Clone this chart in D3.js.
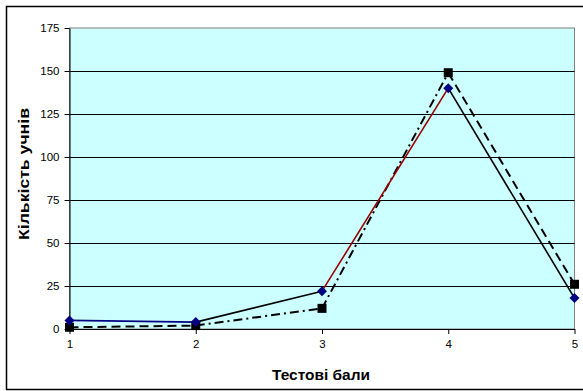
<!DOCTYPE html>
<html>
<head>
<meta charset="utf-8">
<script src="https://cdn.jsdelivr.net/npm/d3@7"></script>
<style>
  html, body { margin: 0; padding: 0; background: #fff; }
  svg { display: block; font-family: "Liberation Sans", Arial, sans-serif; }
</style>
</head>
<body>
<svg id="chart" width="583" height="391"></svg>
<script>
// Test scores (categories) and number of pupils for two groups
const scores = [1, 2, 3, 4, 5];
const groupA = [5, 4, 22, 140, 18];   // solid line, diamond markers
const groupB = [1, 2, 12, 149, 26];   // dashed line, square markers
const yTicks = [0, 25, 50, 75, 100, 125, 150, 175];

// per-segment stroke styles (segment i joins point i and i+1)
const segA = [
  { color: "#000080", dash: null },
  { color: "#000000", dash: null },
  { color: "#990000", dash: null },
  { color: "#000000", dash: null }
];
const segB = [
  { color: "#000000", dash: "9,5" },
  { color: "#000000", dash: "9,4,2,4" },
  { color: "#000000", dash: "9,4,2,4" },
  { color: "#000000", dash: "9,5" }
];

const svg = d3.select("#chart");
const plot = { left: 69.5, top: 28, right: 574.5, bottom: 329 };

const x = d3.scaleLinear().domain([1, 5]).range([plot.left, plot.right]);
const y = d3.scaleLinear().domain([0, 175]).range([plot.bottom, plot.top]);

// outer chart frame
svg.append("rect")
  .attr("x", 6.5).attr("y", 6.5).attr("width", 585).attr("height", 383)
  .attr("fill", "#fff").attr("stroke", "#000").attr("stroke-width", 1.5);

// plot area background
svg.append("rect")
  .attr("x", plot.left).attr("y", plot.top)
  .attr("width", plot.right - plot.left).attr("height", plot.bottom - plot.top)
  .attr("fill", "#CCFFFF").attr("stroke", "#808080").attr("stroke-width", 1);

// horizontal gridlines
svg.append("g").selectAll("line")
  .data(yTicks.filter(t => t > 0 && t < 175))
  .join("line")
  .attr("x1", plot.left).attr("x2", plot.right)
  .attr("y1", d => Math.round(y(d)) + 0.5).attr("y2", d => Math.round(y(d)) + 0.5)
  .attr("stroke", "#000").attr("stroke-width", 1);

// y axis
const yAxis = svg.append("g")
  .attr("transform", `translate(${plot.left},0)`)
  .call(d3.axisLeft(y).tickValues(yTicks).tickSize(5).tickPadding(5).tickSizeOuter(0));
yAxis.select(".domain").attr("stroke", "#000");
yAxis.selectAll("text").attr("font-size", 11.5).attr("fill", "#000")
  .attr("font-family", "Liberation Sans, Arial, sans-serif");

// x axis
const xAxis = svg.append("g")
  .attr("transform", `translate(0,${plot.bottom})`)
  .call(d3.axisBottom(x).tickValues(scores).tickFormat(d3.format("d")).tickSize(5).tickPadding(6).tickSizeOuter(0));
xAxis.select(".domain").attr("stroke", "#000");
xAxis.selectAll("text").attr("font-size", 11.5).attr("fill", "#000")
  .attr("font-family", "Liberation Sans, Arial, sans-serif");

// series lines, drawn segment by segment
function drawSegments(values, styles, width) {
  const g = svg.append("g");
  for (let i = 0; i < values.length - 1; i++) {
    g.append("line")
      .attr("x1", x(scores[i])).attr("y1", y(values[i]))
      .attr("x2", x(scores[i + 1])).attr("y2", y(values[i + 1]))
      .attr("stroke", styles[i].color)
      .attr("stroke-width", width)
      .attr("stroke-dasharray", styles[i].dash);
  }
}
drawSegments(groupB, segB, 2);
drawSegments(groupA, segA, 1.6);

// square markers for group B
svg.append("g").selectAll("rect")
  .data(groupB)
  .join("rect")
  .attr("x", (d, i) => x(scores[i]) - 4.5)
  .attr("y", d => y(d) - 4.5)
  .attr("width", 9).attr("height", 9)
  .attr("fill", "#000");

// diamond markers for group A
svg.append("g").selectAll("path")
  .data(groupA)
  .join("path")
  .attr("d", (d, i) => {
    const cx = x(scores[i]), cy = y(d), r = 5;
    return `M${cx},${cy - r}L${cx + r},${cy}L${cx},${cy + r}L${cx - r},${cy}Z`;
  })
  .attr("fill", "#000080");

// axis titles
svg.append("text")
  .attr("x", 321).attr("y", 379.5)
  .attr("text-anchor", "middle")
  .attr("font-size", 15).attr("font-weight", "bold")
  .attr("textLength", 98).attr("lengthAdjust", "spacingAndGlyphs")
  .text("Тестові бали");

svg.append("text")
  .attr("transform", "translate(28.5,174) rotate(-90)")
  .attr("text-anchor", "middle")
  .attr("font-size", 15).attr("font-weight", "bold")
  .attr("textLength", 132).attr("lengthAdjust", "spacingAndGlyphs")
  .text("Кількість учнів");
</script>
</body>
</html>
